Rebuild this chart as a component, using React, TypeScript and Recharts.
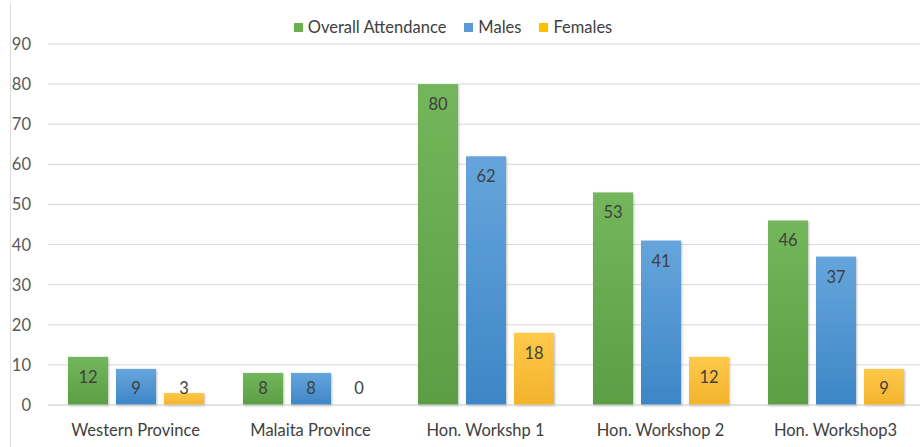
import React from "react";
import { BarChart, Bar, XAxis, YAxis, CartesianGrid } from "recharts";

const categories = ["Western Province", "Malaita Province", "Hon. Workshp 1", "Hon. Workshop 2", "Hon. Workshop3"];
const overall = [12, 8, 80, 53, 46];
const males = [9, 8, 62, 41, 37];
const females = [3, 0, 18, 12, 9];
const yTicks = [0, 10, 20, 30, 40, 50, 60, 70, 80, 90];

const series = [
  { key: "overall", name: "Overall Attendance", color: "#6aaf50", top: "#74b65b", bottom: "#5b9e44" },
  { key: "males", name: "Males", color: "#5b9bd5", top: "#66a5dc", bottom: "#3d86c7" },
  { key: "females", name: "Females", color: "#ffc000", top: "#ffc94a", bottom: "#f2b32c" },
];

const data = categories.map((name, i) => ({
  name,
  overall: overall[i],
  males: males[i],
  females: females[i],
}));

const FONT = "Lato, 'Open Sans', sans-serif";
const FS = 16.5;
const TEXT = "#404040";

// bar + its value label; a custom shape so zero values still get a label
function makeShape(key: string) {
  return (props: any) => {
    const { x, y, width, height, value } = props;
    const v = Array.isArray(value) ? value[1] - value[0] : value;
    const bottom = y + height;
    const cy = Math.min(y + 20, bottom - 17);
    return (
      <g>
        {height > 0 && (
          <rect x={x} y={y} width={width} height={height} fill={`url(#grad-${key})`} filter="url(#shadow)" />
        )}
        <text x={x + width / 2} y={cy} textAnchor="middle" dominantBaseline="central" fontSize={FS} fill={TEXT} fontFamily={FONT}>
          {v}
        </text>
      </g>
    );
  };
}

function YTick(props: any) {
  const { y, payload } = props;
  return (
    <text x={31} y={y} textAnchor="end" dominantBaseline="central" fontSize={FS} fill="#595959" fontFamily={FONT}>
      {payload.value}
    </text>
  );
}

function XTick(props: any) {
  const { x, payload } = props;
  return (
    <text x={x} y={430} textAnchor="middle" dominantBaseline="central" fontSize={FS} fill={TEXT} fontFamily={FONT}>
      {payload.value}
    </text>
  );
}

export default function App() {
  return (
    <div style={{ position: "absolute", left: 0, top: 0, width: 920, height: 447, overflow: "hidden", background: "#fff" }}>
      <div style={{ position: "absolute", left: 10, top: 3, width: 1, height: 444, background: "#dedede" }} />
      <div
        style={{
          position: "absolute",
          top: 16,
          left: 0,
          width: 906,
          display: "flex",
          justifyContent: "center",
          fontFamily: FONT,
          fontSize: FS,
          color: TEXT,
          lineHeight: "22px",
          zIndex: 1,
        }}
      >
        {series.map((s) => (
          <div key={s.key} style={{ display: "flex", alignItems: "center", marginLeft: 9, marginRight: 9 }}>
            <span style={{ width: 9, height: 9, background: s.color, marginRight: 5, display: "inline-block" }} />
            <span>{s.name}</span>
          </div>
        ))}
      </div>
      <BarChart
        width={923}
        height={447}
        data={data}
        margin={{ top: 44, right: 0, bottom: 0, left: 0 }}
        barSize={40}
        barGap={8}
      >
        <defs>
          {series.map((s) => (
            <linearGradient key={s.key} id={`grad-${s.key}`} x1="0" y1="0" x2="0" y2="1">
              <stop offset="0%" stopColor={s.top} />
              <stop offset="100%" stopColor={s.bottom} />
            </linearGradient>
          ))}
          <filter id="shadow" x="-10%" y="-10%" width="130%" height="130%">
            <feDropShadow dx="1" dy="1" stdDeviation="1" floodColor="#000" floodOpacity="0.25" />
          </filter>
        </defs>
        <CartesianGrid vertical={false} stroke="#d9d9d9" />
        <XAxis dataKey="name" height={42} axisLine={{ stroke: "#d9d9d9" }} tickLine={false} tick={<XTick />} interval={0} />
        <YAxis width={48} domain={[0, 90]} ticks={yTicks} axisLine={false} tickLine={false} tick={<YTick />} />
        {series.map((s) => (
          <Bar key={s.key} dataKey={s.key} name={s.name} fill={s.color} shape={makeShape(s.key)} isAnimationActive={false} />
        ))}
      </BarChart>
    </div>
  );
}
